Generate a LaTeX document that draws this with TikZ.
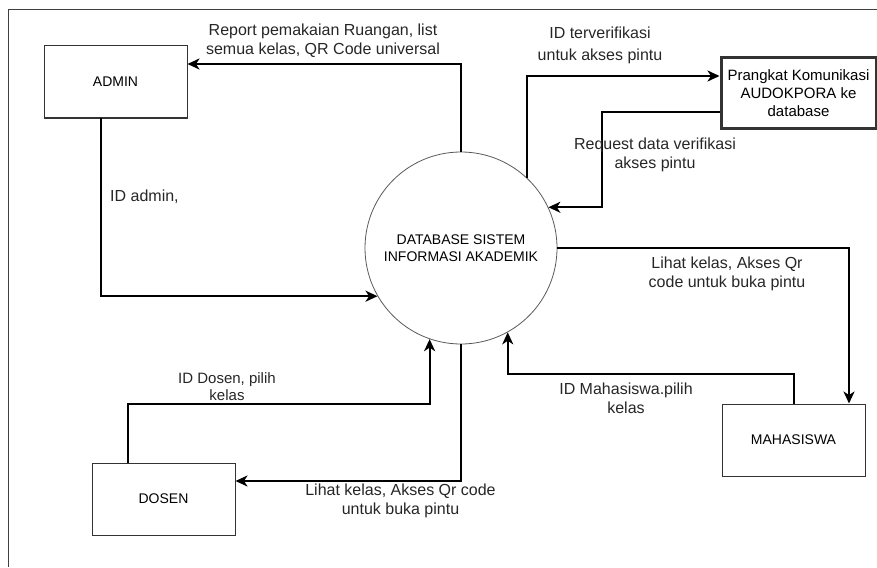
\documentclass[tikz,border=0pt]{standalone}
\usepackage{fontspec}
\setmainfont{Liberation Sans}
\usetikzlibrary{arrows.meta}
\tikzset{>={Stealth[length=12pt,width=11pt,inset=3.5pt]}}
\tikzset{
  entity/.style={draw=black!80,line width=1pt,minimum width=143pt,
    minimum height=72pt,inner sep=2pt,align=center,
    font=\fontsize{14}{17}\selectfont},
  proc/.style={circle,draw=black!65,line width=0.8pt,minimum size=192pt,
    inner sep=0pt,align=center,font=\fontsize{14}{17}\selectfont},
  flow/.style={->,line width=2pt},
  lbl/.style={inner sep=0pt,align=center,text=black!85,
    font=\fontsize{16}{19}\selectfont}
}

\begin{document}
\begin{tikzpicture}[x=1pt,y=-1pt]
      \useasboundingbox (0,0) rectangle (877,567);
      \draw[black!75,line width=1pt] (8,567) -- (8,10) -- (877,10);

      % entitas dan proses
      \node[entity] (admin) at (115.5,82) {ADMIN};
      \node[entity] (dosen) at (163.5,499) {DOSEN};
      \node[entity] (mhs) at (793.5,440) {MAHASISWA};
      \node[entity,line width=3pt,minimum width=155pt,minimum height=70pt,
        font=\fontsize{15}{18}\selectfont] (audok) at (798.5,93)
        {Prangkat Komunikasi\\AUDOKPORA ke\\database};
      \node[proc] (db) at (461,248)
        {DATABASE SISTEM\\INFORMASI AKADEMIK};

      % aliran data
      \draw[flow] (db.north) |- ([yshift=18pt]admin.east);
      \draw[flow] ([xshift=-14.5pt]admin.south) |- (db.210);
      \draw[flow] (db.47) |- ([yshift=17pt]audok.west);
      \draw[flow] ([yshift=-19pt]audok.west) -- ++(-118,0) |- (db.25);
      \draw[flow] (db.east) -| ([xshift=55.5pt]mhs.north);
      \draw[flow] (mhs.north) -- ++(0,-30) -| (db.299);
      \draw[flow] (db.south) |- ([yshift=18pt]dosen.east);
      \draw[flow] ([xshift=-35.5pt]dosen.north) -- ++(0,-59) -| (db.251);

      % label
      \node[lbl] (lreport) at (323,41)
        {Report pemakaian Ruangan, list\\semua kelas, QR Code universal};
      \node[lbl,anchor=west] (lidadmin) at (110,197) {ID admin,};
      \node[lbl,font=\fontsize{16}{22}\selectfont] (lverif) at (600,45)
        {ID terverifikasi\\untuk akses pintu};
      \node[lbl] (lreq) at (655,155) {Request data verifikasi\\akses pintu};
      \node[lbl] (lmhsout) at (727,274)
        {Lihat kelas, Akses Qr\\code untuk buka pintu};
      \node[lbl] (lmhsin) at (626,398) {ID Mahasiswa.pilih\\kelas};
      \node[lbl] (ldosout) at (400.5,500.5)
        {Lihat kelas, Akses Qr code\\untuk buka pintu};
      \node[lbl,font=\fontsize{15}{17}\selectfont] (ldosin) at (227,387)
        {ID Dosen, pilih\\kelas};
    \end{tikzpicture}
\end{document}
